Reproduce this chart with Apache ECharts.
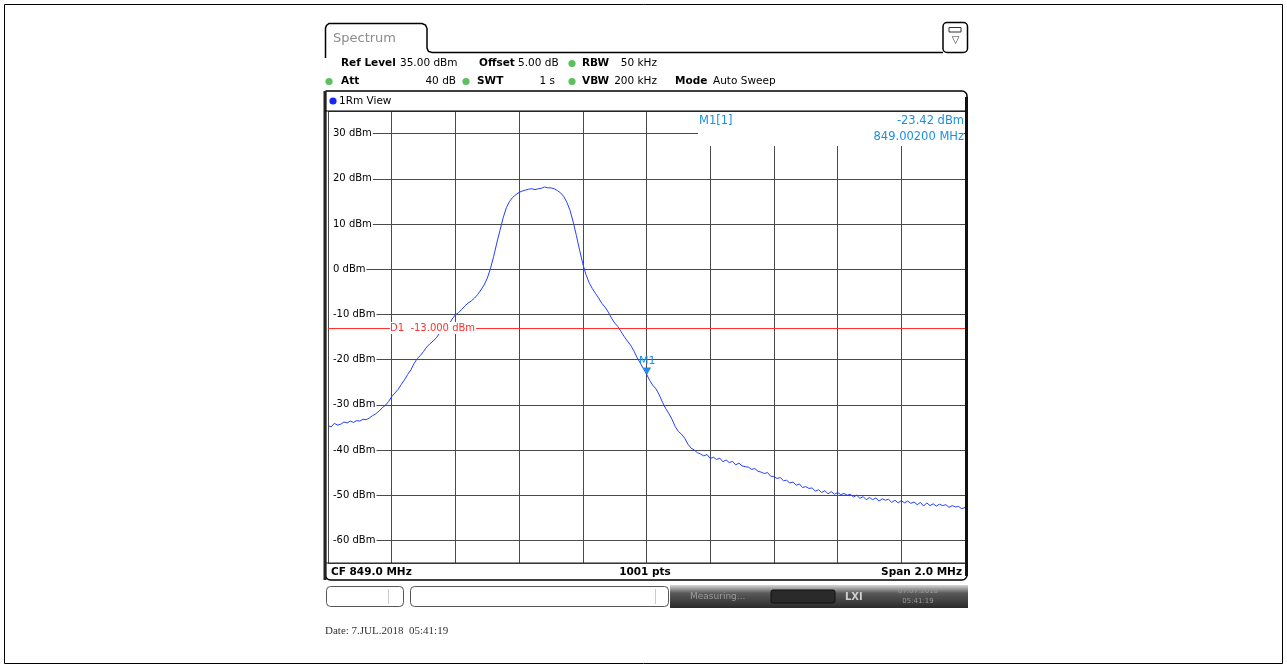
<!DOCTYPE html>
<html>
<head>
<meta charset="utf-8">
<title>Spectrum</title>
<script src="https://cdn.jsdelivr.net/npm/echarts@6/dist/echarts.min.js"></script>
<style>
  html, body { margin: 0; padding: 0; background: #fff; }
  #chart { width: 1287px; height: 668px; }
</style>
</head>
<body>
<div id="chart"></div>
<script>
// sweep: CF 849.0 MHz, span 2.0 MHz -> 848.0 .. 850.0, one reading every 0.01 MHz
const startMHz = 848.0;
const stopMHz = 850.0;
const stepMHz = 0.01;

// trace 1 (RM view), dBm left to right
const traceDbm = [
  -34.6, -34.9, -34.1, -34.5, -34.3, -33.8, -34.0, -33.6, -33.9, -33.5,
  -33.6, -33.2, -33.3, -32.9, -32.4, -32.0, -31.4, -30.7, -30.1, -29.3,
  -28.2, -27.4, -26.6, -25.5, -24.5, -23.3, -22.3, -20.9, -19.8, -19.1,
  -18.2, -17.2, -16.5, -15.9, -15.2, -14.2, -13.5, -12.9, -12.2, -11.0,
  -10.1, -9.6, -8.9, -8.1, -7.5, -7.0, -6.4, -5.6, -4.6, -3.5,
  -2.0, 0.1, 2.8, 5.8, 8.6, 11.4, 13.6, 15.0, 15.9, 16.5,
  17.0, 17.3, 17.5, 17.7, 17.8, 17.6, 17.8, 17.9, 18.2, 18.0,
  18.0, 17.8, 17.4, 16.9, 16.1, 14.8, 13.0, 10.4, 7.4, 4.2,
  1.2, -1.2, -3.0, -4.3, -5.4, -6.4, -7.6, -8.4, -9.5, -10.8,
  -11.9, -12.7, -13.8, -14.9, -15.9, -16.8, -18.0, -19.5, -20.7, -22.0,
  -23.2, -24.6, -25.7, -26.5, -27.8, -29.4, -30.8, -31.9, -33.2, -34.8,
  -35.9, -36.5, -37.4, -38.7, -39.6, -40.0, -40.6, -40.9, -41.3, -41.0,
  -41.9, -41.6, -42.1, -41.8, -42.6, -42.2, -42.8, -42.5, -43.3, -42.9,
  -43.5, -43.7, -43.8, -44.3, -44.1, -44.7, -44.9, -45.2, -45.0, -45.8,
  -45.9, -46.3, -46.1, -46.8, -46.7, -47.3, -47.1, -47.8, -47.5, -48.3,
  -48.1, -48.5, -48.4, -49.1, -48.8, -49.4, -49.0, -49.7, -49.2, -49.8,
  -49.4, -49.9, -49.6, -50.0, -49.8, -50.4, -50.0, -50.7, -50.3, -51.0,
  -50.5, -51.0, -50.6, -51.3, -50.8, -51.1, -50.9, -51.6, -51.1, -51.7,
  -51.2, -51.7, -51.3, -51.8, -51.5, -52.1, -51.6, -52.4, -51.7, -52.3,
  -51.9, -52.4, -52.0, -52.3, -52.1, -52.7, -52.3, -52.6, -52.5, -53.0,
  -52.7
];

// y scale: ref level 35 dBm at the top, 10 dB/div
const refLevel = 35;
const bottomLevel = -65;
const yLabelValues = [30, 20, 10, 0, -10, -20, -30, -40, -50, -60];

// display line D1 and marker M1
const d1Level = -13.0;
const markerMHz = 849.002;
const markerDbm = -23.42;

const traceData = traceDbm.map((v, i) => [startMHz + i * stepMHz, v]);

const SANS = '"DejaVu Sans", sans-serif';
const BLUE_MK = '#1c90e0';
const RED = '#ff3030';
const GRIDC = '#4a4a4a';

function txt(x, y, s, o) {
  o = o || {};
  return {
    type: 'text', x: x, y: y, z: 102, silent: true,
    style: {
      text: s,
      font: (o.bold ? 'bold ' : '') + (o.size || 10.5) + 'px ' + (o.family || SANS),
      fill: o.color || '#000',
      align: o.align || 'left',
      verticalAlign: 'middle'
    }
  };
}
function dot(cx, cy, color) {
  return { type: 'circle', z: 102, silent: true, shape: { cx: cx, cy: cy, r: 3.6 }, style: { fill: color } };
}
function hline(x1, x2, y, w, c) {
  return { type: 'line', z: 101, silent: true, shape: { x1: x1, y1: y, x2: x2, y2: y }, style: { stroke: c || '#000', lineWidth: w || 1 } };
}
function vline(x, y1, y2, w, c) {
  return { type: 'line', z: 101, silent: true, shape: { x1: x, y1: y1, x2: x, y2: y2 }, style: { stroke: c || '#000', lineWidth: w || 1 } };
}

const myChart = echarts.init(document.getElementById('chart'), null, { renderer: 'canvas' });

const option = {
  animation: false,
  backgroundColor: '#fff',
  grid: { left: 328, right: 322, top: 111, bottom: 105 },
  xAxis: {
    type: 'value',
    min: startMHz,
    max: stopMHz,
    interval: 0.2,
    axisLine: { show: false },
    axisTick: { show: false },
    axisLabel: { show: false },
    splitLine: { show: true, lineStyle: { color: GRIDC, width: 1 } }
  },
  yAxis: [
    {
      type: 'value',
      min: bottomLevel,
      max: refLevel,
      splitNumber: 10,
      axisLine: { show: false },
      axisTick: { show: false },
      axisLabel: { show: false },
      splitLine: { show: true, lineStyle: { color: GRIDC, width: 1 } }
    },
    {
      type: 'value',
      z: 10,
      position: 'left',
      offset: 0,
      min: bottomLevel,
      max: refLevel,
      splitNumber: 10,
      axisLine: { show: false },
      axisTick: { show: false },
      splitLine: { show: false },
      axisLabel: {
        show: true,
        inside: true,
        margin: 1,
        showMinLabel: true,
        showMaxLabel: true,
        customValues: yLabelValues,
        color: '#000',
        fontFamily: SANS,
        fontSize: 10,
        backgroundColor: '#fff',
        padding: [1, 1, 1, 4],
        formatter: (v) => v + ' dBm'
      }
    }
  ],
  series: [
    {
      name: '1Rm',
      type: 'line',
      data: traceData,
      showSymbol: false,
      symbol: 'none',
      lineStyle: { color: '#2340ff', width: 1 },
      itemStyle: { color: '#2340ff' },
      markLine: {
        silent: true,
        symbol: 'none',
        animation: false,
        lineStyle: { color: RED, width: 1, type: 'solid' },
        label: { show: false },
        data: [
          [{ coord: [startMHz, d1Level] }, { coord: [848.2, d1Level] }],
          [
            {
              coord: [848.465, d1Level],
              label: {
                show: true,
                position: 'start',
                distance: 1,
                formatter: 'D1  -13.000 dBm',
                color: RED,
                fontFamily: SANS,
                fontSize: 10,
                backgroundColor: '#fff',
                padding: [1, 0]
              }
            },
            { coord: [stopMHz, d1Level] }
          ]
        ]
      },
      markPoint: {
        silent: true,
        animation: false,
        symbol: 'triangle',
        symbolRotate: 180,
        symbolSize: [8, 7],
        symbolOffset: [0, -4],
        itemStyle: { color: BLUE_MK },
        label: {
          show: true,
          position: 'top',
          distance: 1,
          formatter: 'M1',
          color: BLUE_MK,
          fontFamily: SANS,
          fontSize: 11
        },
        data: [{ coord: [markerMHz, markerDbm] }]
      }
    }
  ],
  graphic: {
    elements: [
      // outer frame of the screenshot
      { type: 'rect', z: 100, silent: true, shape: { x: 4.5, y: 4.5, width: 1278, height: 659 }, style: { fill: null, stroke: '#000', lineWidth: 1 } },
      // "Spectrum" tab and header line
      { type: 'polyline', z: 101, silent: true,
        shape: { points: [[325.5, 58], [325.5, 28], [326.5, 25.5], [329, 23.5], [422, 23.5], [425.5, 25], [427, 28.5], [427, 48], [428.5, 51.5], [432, 52.5], [943, 52.5]] },
        style: { fill: null, stroke: '#000', lineWidth: 1.5 } },
      txt(333, 39, 'Spectrum', { size: 13, color: '#8a8a8a' }),
      // icon top right
      { type: 'rect', z: 101, silent: true, shape: { x: 943, y: 22.5, width: 24.5, height: 30, r: 4 }, style: { fill: '#fff', stroke: '#000', lineWidth: 1.5 } },
      { type: 'rect', z: 102, silent: true, shape: { x: 949, y: 27.5, width: 12, height: 4.5 }, style: { fill: '#fff', stroke: '#333', lineWidth: 1 } },
      vline(953, 27.5, 32, 1.5, '#333'),
      vline(957, 27.5, 32, 1.5, '#333'),
      txt(955.5, 40.5, '\u25BD', { size: 10, align: 'center', color: '#333' }),
      // header settings
      txt(341, 63.5, 'Ref Level', { bold: true }),
      txt(400, 63.5, '35.00 dBm'),
      txt(479, 63.5, 'Offset', { bold: true }),
      txt(518, 63.5, '5.00 dB'),
      dot(572, 63.5, '#5cc05c'),
      txt(582, 63.5, 'RBW', { bold: true }),
      txt(657, 63.5, '50 kHz', { align: 'right' }),
      dot(329, 81.5, '#5cc05c'),
      txt(341, 81.5, 'Att', { bold: true }),
      txt(456, 81.5, '40 dB', { align: 'right' }),
      dot(466, 81.5, '#5cc05c'),
      txt(477, 81.5, 'SWT', { bold: true }),
      txt(555, 81.5, '1 s', { align: 'right' }),
      dot(572, 81.5, '#5cc05c'),
      txt(582, 81.5, 'VBW', { bold: true }),
      txt(657, 81.5, '200 kHz', { align: 'right' }),
      txt(675, 81.5, 'Mode', { bold: true }),
      txt(713, 81.5, 'Auto Sweep'),
      // view box + plot frame + status bar
      { type: 'rect', z: 100, silent: true, shape: { x: 325.5, y: 91, width: 641.5, height: 489, r: [0, 5, 5, 5] }, style: { fill: null, stroke: '#000', lineWidth: 1.5 } },
      vline(325, 91, 580, 3, '#222'),
      vline(966.5, 97, 576, 3, '#111'),
      hline(325, 966, 111, 1.2, '#000'),
      hline(325, 966, 563, 1.2, '#222'),
      dot(333, 101, '#1428f0'),
      txt(339, 101, '1Rm View', { size: 10.5 }),
      // blank area behind the marker readout
      { type: 'rect', z: 50, silent: true, shape: { x: 698, y: 112, width: 266, height: 34 }, style: { fill: '#fff' } },
      txt(699, 121.5, 'M1[1]', { size: 11.5, color: BLUE_MK }),
      txt(964, 121.5, '-23.42 dBm', { size: 11.5, color: BLUE_MK, align: 'right' }),
      txt(964, 137.5, '849.00200 MHz', { size: 11.5, color: BLUE_MK, align: 'right' }),
      // status line
      txt(331, 572, 'CF 849.0 MHz', { bold: true }),
      txt(645, 572, '1001 pts', { bold: true, align: 'center' }),
      txt(962, 572, 'Span 2.0 MHz', { bold: true, align: 'right' }),
      // bottom bar
      { type: 'rect', z: 100, silent: true, shape: { x: 326.5, y: 586.5, width: 77, height: 20, r: 4 }, style: { fill: '#fff', stroke: '#555', lineWidth: 1 } },
      vline(388.5, 589, 604, 1, '#ccc'),
      { type: 'rect', z: 100, silent: true, shape: { x: 410.5, y: 586.5, width: 258, height: 20, r: 4 }, style: { fill: '#fff', stroke: '#555', lineWidth: 1 } },
      vline(655.5, 589, 604, 1, '#ccc'),
      { type: 'rect', z: 100, silent: true, shape: { x: 670, y: 585, width: 298, height: 23 },
        style: { fill: new echarts.graphic.LinearGradient(0, 0, 0, 1, [
          { offset: 0, color: '#d8d8d8' }, { offset: 0.35, color: '#5a5a5a' }, { offset: 1, color: '#2a2a2a' }
        ]) } },
      txt(690, 597, 'Measuring...', { size: 9, color: '#9a9a9a' }),
      { type: 'rect', z: 101, silent: true, shape: { x: 771, y: 590, width: 64, height: 13, r: 2 }, style: { fill: '#2a2a2a', stroke: '#111' } },
      txt(845, 597, 'LXI', { size: 10, bold: true, color: '#cfcfcf' }),
      txt(918, 591, '07.07.2018', { size: 7, color: '#9a9a9a', align: 'center' }),
      txt(918, 601, '05:41:19', { size: 7, color: '#9a9a9a', align: 'center' }),
      // printout date
      txt(325, 631, 'Date: 7.JUL.2018  05:41:19', { size: 11, family: '"Liberation Serif", serif', color: '#333' })
    ]
  }
};

myChart.setOption(option);
</script>
</body>
</html>
